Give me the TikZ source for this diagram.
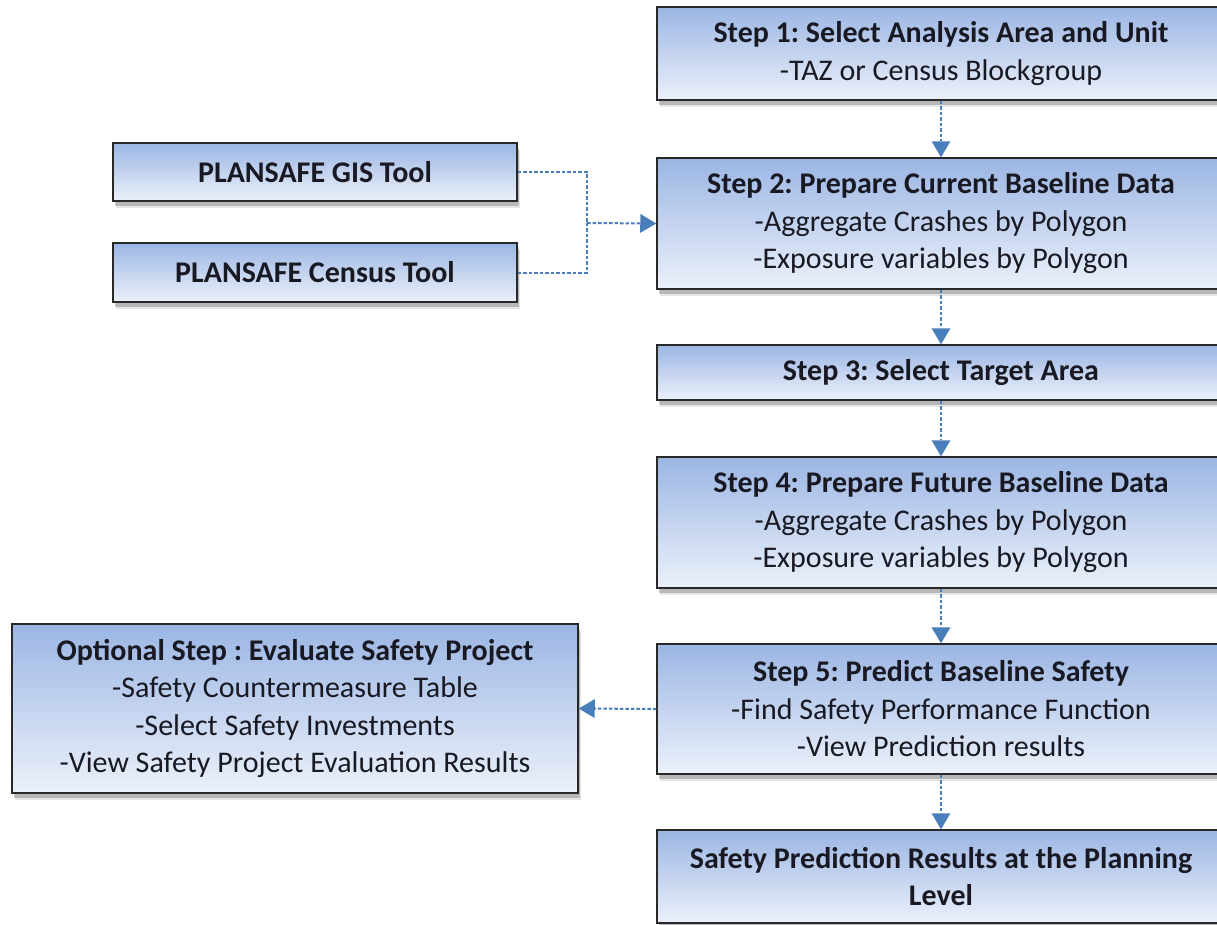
\documentclass[tikz,border=0pt]{standalone}
\usepackage{fontspec}
\setmainfont{Carlito}
\frenchspacing
\usetikzlibrary{arrows.meta,shadows}
\definecolor{boxtop}{RGB}{155,182,228}
\definecolor{boxbot}{RGB}{236,241,250}
\definecolor{boxline}{RGB}{40,40,40}
\definecolor{arrowblue}{RGB}{74,126,187}
\definecolor{txt}{RGB}{25,25,35}
\tikzset{
  flowbox/.style={draw=boxline, line width=1.5pt, top color=boxtop, bottom color=boxbot,
    inner sep=0pt, align=center, text=txt,
    font=\fontsize{30}{37.5}\selectfont,
    drop shadow={shadow xshift=2pt, shadow yshift=-5pt, fill=black, opacity=0.20},
    drop shadow={shadow xshift=3pt, shadow yshift=-7pt, fill=black, opacity=0.10}},
  flowarrow/.style={draw=arrowblue, line width=2pt, dash pattern=on 3.5pt off 2pt,
    -{Triangle[width=19pt,length=16pt,fill=arrowblue,line width=0pt]}},
  flowline/.style={draw=arrowblue, line width=2pt, dash pattern=on 3.5pt off 2pt}
}
\begin{document}
\begin{tikzpicture}[x=1pt,y=-1pt]
\useasboundingbox (0,0) rectangle (1217,924);
\clip (0,0) rectangle (1217,924);
\fill[white] (0,0) rectangle (1217,924);

\node[flowbox, minimum width=404pt, minimum height=58pt] (gis) at (315,172)
  {\textbf{PLANSAFE GIS Tool}};
\node[flowbox, minimum width=404pt, minimum height=59pt] (census) at (315,272.5)
  {\textbf{PLANSAFE Census Tool}};

\node[flowbox, minimum width=568pt, minimum height=93pt] (s1) at (941,53.5)
  {\textbf{Step 1: Select Analysis Area and Unit}\\-TAZ or Census Blockgroup};
\node[flowbox, minimum width=568pt, minimum height=131pt] (s2) at (941,223.5)
  {\textbf{Step 2: Prepare Current Baseline Data}\\-Aggregate Crashes by Polygon\\-Exposure variables by Polygon};
\node[flowbox, minimum width=568pt, minimum height=55pt] (s3) at (941,372.5)
  {\textbf{Step 3: Select Target Area}};
\node[flowbox, minimum width=568pt, minimum height=131pt] (s4) at (941,522.5)
  {\textbf{Step 4: Prepare Future Baseline Data}\\-Aggregate Crashes by Polygon\\-Exposure variables by Polygon};
\node[flowbox, minimum width=568pt, minimum height=130pt] (s5) at (941,709)
  {\textbf{Step 5: Predict Baseline Safety}\\-Find Safety Performance Function\\-View Prediction results};
\node[flowbox, minimum width=568pt, minimum height=93pt] (s6) at (941,876.5)
  {\textbf{Safety Prediction Results at the Planning}\\\textbf{Level}};
\node[flowbox, minimum width=566pt, minimum height=169pt] (opt) at (295,708.5)
  {\textbf{Optional Step : Evaluate Safety Project}\\-Safety Countermeasure Table\\-Select Safety Investments\\-View Safety Project Evaluation Results};

\coordinate (j) at (587,223);
\draw[flowline] (gis.east) -| (j);
\draw[flowline] (census.east) -| (j);
\draw[flowarrow] (j) -- (s2.west);

\draw[flowarrow] (s1.south) -- (s2.north);
\draw[flowarrow] (s2.south) -- (s3.north);
\draw[flowarrow] (s3.south) -- (s4.north);
\draw[flowarrow] (s4.south) -- (s5.north);
\draw[flowarrow] (s5.south) -- (s6.north);
\draw[flowarrow] (s5.west) -- (opt.east);
\end{tikzpicture}
\end{document}
